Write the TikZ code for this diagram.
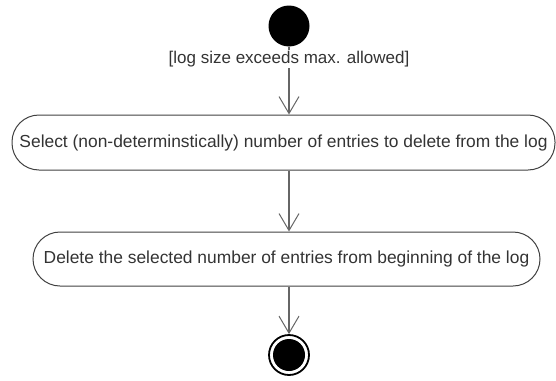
\documentclass[tikz,border=0pt]{standalone}
\usepackage{fontspec}
\setmainfont{Liberation Sans}
\usetikzlibrary{arrows.meta}
\definecolor{txt}{HTML}{333333}
\definecolor{ln}{HTML}{666666}
\begin{document}
\begin{tikzpicture}[x=1pt,y=-1pt,
  act/.style={draw=black!75, line width=1pt, rounded corners=27pt, inner sep=0pt, text=txt, font=\fontsize{17.4}{20}\selectfont},
  flow/.style={draw=ln, line width=1.3pt, -{Straight Barb[length=17pt,width=20pt,line width=1pt]}},
  lbl/.style={text=txt, font=\fontsize{17}{20}\selectfont, inner sep=1pt, fill=white}]
\useasboundingbox (0,0) rectangle (556,380);
\node[circle, fill=black, minimum size=41pt, inner sep=0pt] (start) at (289,26) {};
\node[act, minimum width=543pt, minimum height=55pt] (a1) at (283.5,142.5) {Select (non-determinstically) number of entries to delete from the log};
\node[act, minimum width=507pt, minimum height=54pt] (a2) at (286.5,259) {Delete the selected number of entries from beginning of the log};
\node[circle, draw=black, line width=1.8pt, minimum size=40pt, inner sep=0pt] (end) at (289,355) {};
\node[circle, fill=black, minimum size=32pt, inner sep=0pt] (endin) at (end) {};
\draw[flow] (start.south) -- (start.south |- a1.north);
\node[lbl] (guard) at (289,59) {[log size exceeds max. allowed]};
\draw[flow] (start.south |- a1.south) -- (start.south |- a2.north);
\draw[flow] (start.south |- a2.south) -- (end.north);
\end{tikzpicture}
\end{document}
